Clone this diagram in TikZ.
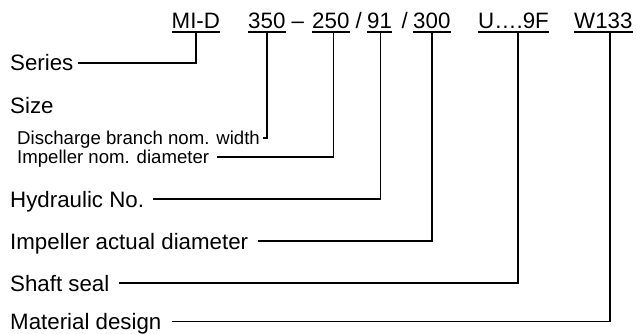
\documentclass[tikz,border=0pt]{standalone}
\usepackage{fontspec}
\setmainfont{Liberation Sans}
\begin{document}
\begin{tikzpicture}[x=1pt,y=-1pt,
  big/.style={font=\fontsize{22.3}{26}\selectfont},
  small/.style={font=\fontsize{18.6}{21}\selectfont},
  lab/.style={big,inner sep=0pt,text height=16pt,text depth=0pt,anchor=base west},
  slab/.style={small,inner sep=0pt,text height=13.6pt,text depth=0pt,anchor=base west},
  code/.style={big,inner sep=0pt,text height=16pt,text depth=3.5pt,anchor=base west},
  conn/.style={line width=1.5pt,line cap=rect},
  uline/.style={line width=1.6pt}]
\useasboundingbox (0,0) rectangle (637,334);
% code row
\node[code] (cmid) at (171.5,28.5) {MI-D};
\node[code] (c350) at (248,28.5) {350};
\node[code] (sep1) at (291.5,28.5) {–};
\node[code] (c250) at (312,28.5) {250};
\node[code] (sep2) at (355.5,28.5) {/};
\node[code] (c91) at (367,28.5) {91};
\node[code] (sep3) at (401.5,28.5) {/};
\node[code] (c300) at (413,28.5) {300};
\node[code] (cseal) at (478,28.5) {U….9F};
\node[code] (cmat) at (574,28.5) {W133};
\foreach \n in {cmid,c350,c250,c91,c300,cseal,cmat}
  \draw[uline] (\n.south west) -- (\n.south east);
% labels
\node[lab] (series) at (10,71) {Series};
\node[lab] (size) at (10,114) {Size};
\node[slab] (dis) at (17,144.8) {Discharge branch nom. width};
\node[slab] (imp) at (17,163.8) {Impeller nom. diameter};
\node[lab] (hyd) at (10,207) {Hydraulic No.};
\node[lab] (act) at (10,249) {Impeller actual diameter};
\node[lab] (seal) at (10,291) {Shaft seal};
\node[lab] (mat) at (10,329.5) {Material design};
% connectors
\draw[conn] (cmid.south) |- ([xshift=5pt]series.east);
\draw[conn] (c350.south) |- ([xshift=4pt]dis.east);
\draw[conn] ([xshift=2.5pt]c250.south) |- ([xshift=8pt]imp.east);
\draw[conn] ([xshift=0.8pt]c91.south) |- ([xshift=10pt]hyd.east);
\draw[conn] (c300.south) |- ([xshift=10pt]act.east);
\draw[conn] ([xshift=4.5pt]cseal.south) |- ([xshift=10pt]seal.east);
\draw[conn] ([xshift=6.5pt]cmat.south) |- ([xshift=11pt]mat.east);
\end{tikzpicture}
\end{document}
